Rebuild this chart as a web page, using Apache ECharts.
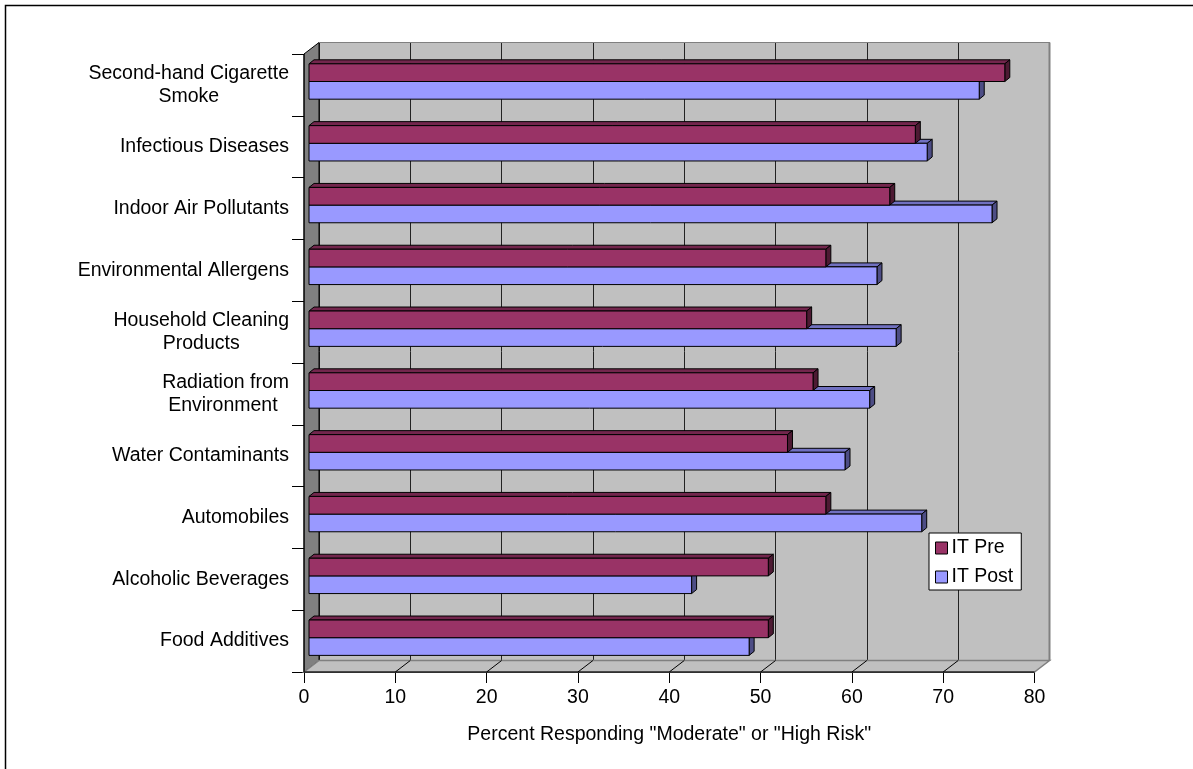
<!DOCTYPE html>
<html>
<head>
<meta charset="utf-8">
<script src="https://cdn.jsdelivr.net/npm/echarts@6/dist/echarts.min.js"></script>
<style>
html,body{margin:0;padding:0;background:#fff;}
#chart{width:1193px;height:769px;}
</style>
</head>
<body>
<div id="chart"></div>
<script>
const categories = [
  'Second-hand Cigarette\nSmoke',
  'Infectious Diseases',
  'Indoor Air Pollutants',
  'Environmental Allergens',
  'Household Cleaning\nProducts',
  'Radiation from\nEnvironment ',
  'Water Contaminants',
  'Automobiles',
  'Alcoholic Beverages',
  'Food Additives'
];
const itPre  = [76.2, 66.4, 63.6, 56.6, 54.5, 55.2, 52.4, 56.6, 50.3, 50.3];
const itPost = [73.4, 67.7, 74.8, 62.2, 64.3, 61.4, 58.7, 67.1, 41.9, 48.2];
const xMin = 0, xMax = 80, xStep = 10;
const axisTitle = 'Percent Responding "Moderate" or "High Risk"';

const FONT = "'Liberation Sans', Arial, sans-serif";
const FS = 19.5;

const chart = echarts.init(document.getElementById('chart'), null, {renderer: 'canvas'});

function wallsRender(params, api) {
  const band = api.size([0, 1])[1];
  const x0 = api.coord([xMin, 0])[0];
  const xE = api.coord([xMax, 0])[0];
  const yTop = api.coord([0, 0])[1] - band / 2;
  const yBot = api.coord([0, categories.length - 1])[1] + band / 2;
  const dx = 15, dy = -11.5;
  const children = [];
  children.push({type: 'polygon', shape: {points: [[x0, yTop], [x0 + dx, yTop + dy], [x0 + dx, yBot + dy], [x0, yBot]]},
    style: {fill: '#808080', stroke: '#000', lineWidth: 1}});
  children.push({type: 'polygon', shape: {points: [[x0, yBot], [x0 + dx, yBot + dy], [xE + dx, yBot + dy], [xE, yBot]]},
    style: {fill: '#c0c0c0', stroke: '#808080', lineWidth: 1.5}});
  for (let v = xMin + xStep; v < xMax; v += xStep) {
    const x = api.coord([v, 0])[0];
    children.push({type: 'line', shape: {x1: x, y1: yBot, x2: x + dx, y2: yBot + dy}, style: {stroke: '#000', lineWidth: 1}});
  }
  children.push({type: 'line', shape: {x1: xE + dx, y1: yTop + dy, x2: xE + dx, y2: yBot + dy}, style: {stroke: '#808080', lineWidth: 2}});
  children.push({type: 'line', shape: {x1: x0 + dx, y1: yTop + dy, x2: xE + dx, y2: yTop + dy}, style: {stroke: '#808080', lineWidth: 1}});
  children.push({type: 'line', shape: {x1: x0, y1: yBot, x2: xE, y2: yBot}, style: {stroke: '#000', lineWidth: 1}});
  children.push({type: 'line', shape: {x1: x0, y1: yTop, x2: x0, y2: yBot}, style: {stroke: '#000', lineWidth: 1}});
  return {type: 'group', children};
}

function makeBarRender(topFrac, botFrac, front, top, side) {
  return function (params, api) {
    const v = api.value(0), i = api.value(1);
    const band = api.size([0, 1])[1];
    const yc = api.coord([0, i])[1];
    const bandTop = yc - band / 2;
    const x0 = api.coord([0, i])[0] + 5;
    const x1 = api.coord([v, i])[0] + 5;
    const t = bandTop + topFrac * band;
    const b = bandTop + botFrac * band;
    const dx = 5, dy = -4;
    return {type: 'group', children: [
      {type: 'polygon', shape: {points: [[x0, t], [x0 + dx, t + dy], [x1 + dx, t + dy], [x1, t]]}, style: {fill: top, stroke: '#000', lineWidth: 1}},
      {type: 'polygon', shape: {points: [[x1, t], [x1 + dx, t + dy], [x1 + dx, b + dy], [x1, b]]}, style: {fill: side, stroke: '#000', lineWidth: 1}},
      {type: 'rect', shape: {x: x0, y: t, width: x1 - x0, height: b - t}, style: {fill: front, stroke: '#000', lineWidth: 1}}
    ]};
  };
}

const option = {
  animation: false,
  backgroundColor: '#fff',
  textStyle: {fontFamily: FONT},
  graphic: [{type: 'rect', shape: {x: 5.5, y: 5.5, width: 1300, height: 900}, style: {fill: 'none', stroke: '#000', lineWidth: 1.5}, z: 100}],
  legend: {
    data: ['IT Pre', 'IT Post'],
    orient: 'vertical',
    left: 929, top: 533,
    padding: [5, 8, 3, 6],
    itemWidth: 12, itemHeight: 12, itemGap: 9,
    backgroundColor: '#fff', borderColor: '#000', borderWidth: 1,
    icon: 'rect',
    itemStyle: {borderColor: '#000', borderWidth: 1},
    textStyle: {fontFamily: FONT, fontSize: FS, color: '#000', padding: [0, 0, 0, -1]}
  },
  grid: [
    {left: 304, right: 158.5, top: 54, bottom: 97},
    {left: 319, right: 143.5, top: 42.5, bottom: 108.5, show: true, backgroundColor: '#c0c0c0', borderWidth: 0}
  ],
  xAxis: [
    {type: 'value', gridIndex: 0, min: xMin, max: xMax, interval: xStep,
      axisLine: {show: true, lineStyle: {color: '#000'}},
      axisTick: {show: true, length: 11, lineStyle: {color: '#000'}},
      splitLine: {show: false},
      axisLabel: {fontSize: FS, color: '#000', margin: 16, fontFamily: FONT},
      name: axisTitle, nameLocation: 'middle', nameGap: 53,
      nameTextStyle: {fontSize: FS, color: '#000', fontFamily: FONT}},
    {type: 'value', gridIndex: 1, min: xMin, max: xMax, interval: xStep,
      axisLine: {show: false}, axisTick: {show: false}, axisLabel: {show: false},
      splitLine: {show: true, lineStyle: {color: '#222', width: 1}}}
  ],
  yAxis: [
    {type: 'category', gridIndex: 0, data: categories, inverse: true,
      axisLine: {show: true, lineStyle: {color: '#000'}},
      axisTick: {show: true, length: 12, lineStyle: {color: '#000'}},
      axisLabel: {margin: 15, color: '#000', fontSize: FS, fontFamily: FONT, lineHeight: 23,
        formatter: function (val) { return val.split('\n').map(function (s) { return '{c|' + s + '}'; }).join('\n'); },
        rich: {c: {align: 'center', fontSize: FS, lineHeight: 23, fontFamily: FONT, color: '#000'}}}},
    {type: 'category', gridIndex: 1, data: categories, inverse: true, show: false}
  ],
  series: [
    {type: 'custom', name: 'walls', xAxisIndex: 0, yAxisIndex: 0, z: 1, silent: true,
      renderItem: wallsRender, data: [[0, 0]], encode: {x: 0, y: 1}},
    {type: 'custom', name: 'IT Post', xAxisIndex: 0, yAxisIndex: 0, z: 3,
      itemStyle: {color: '#9999ff', borderColor: '#000', borderWidth: 1},
      renderItem: makeBarRender(0.445, 0.731, '#9999ff', '#7070c0', '#4d4d85'),
      data: itPost.map(function (v, i) { return [v, i]; }), encode: {x: 0, y: 1}},
    {type: 'custom', name: 'IT Pre', xAxisIndex: 0, yAxisIndex: 0, z: 4,
      itemStyle: {color: '#993366', borderColor: '#000', borderWidth: 1},
      renderItem: makeBarRender(0.159, 0.445, '#993366', '#73264d', '#4d1a33'),
      data: itPre.map(function (v, i) { return [v, i]; }), encode: {x: 0, y: 1}}
  ]
};
chart.setOption(option);
</script>
</body>
</html>
